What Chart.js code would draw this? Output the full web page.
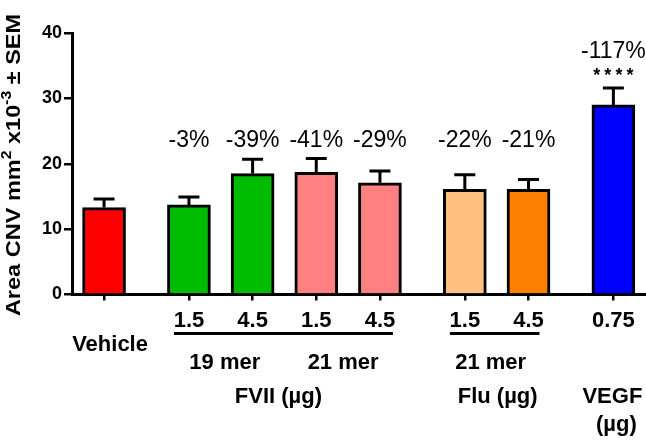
<!DOCTYPE html>
<html>
<head>
<meta charset="utf-8">
<script src="https://cdn.jsdelivr.net/npm/chart.js@4/dist/chart.umd.min.js"></script>
<style>
  html, body { margin: 0; padding: 0; background: #fff; }
  #wrap { width: 646px; height: 441px; }
</style>
</head>
<body>
<div id="wrap"><canvas id="chart-area" width="646" height="441"></canvas></div>
<script>
// bars, left to right
var categories = ['Vehicle', 'FVII 19 mer 1.5', 'FVII 19 mer 4.5', 'FVII 21 mer 1.5', 'FVII 21 mer 4.5',
                  'Flu 21 mer 1.5', 'Flu 21 mer 4.5', 'VEGF 0.75'];
var groupOf    = [0, 1, 1, 1, 1, 2, 2, 3];
var areaMean   = [13.3, 13.7, 18.5, 18.7, 17.1, 16.1, 16.1, 29.0];
var areaSem    = [1.3, 1.2, 2.2, 2.1, 1.8, 2.2, 1.5, 2.6];
var doseLabels = ['', '1.5', '4.5', '1.5', '4.5', '1.5', '4.5', '0.75'];
var pctLabels  = ['', '-3%', '-39%', '-41%', '-29%', '-22%', '-21%', '-117%'];
var sigLabels  = ['', '', '', '', '', '', '', '****'];
var yTicks     = [0, 10, 20, 30, 40];

var barColors = ['#ff0000', '#00bb00', '#00bb00', '#ff8080', '#ff8080', '#ffc080', '#ff8000', '#0000ff'];

// slot positions: 3 units between bars in a group, 4 between groups
var pos = [];
var p = 0;
for (var i = 0; i < categories.length; ++i) {
    if (i > 0) p += (groupOf[i] !== groupOf[i - 1]) ? 4 : 3;
    pos.push(p);
}

var BOLD = 'bold 22px "Liberation Sans", Arial, sans-serif';

function txt(ctx, s, x, y, font, align) {
    ctx.font = font;
    ctx.textAlign = align || 'center';
    ctx.textBaseline = 'alphabetic';
    ctx.fillText(s, x, y);
}

var extras = {
    id: 'extras',
    afterDatasetsDraw: function (chart) {
        var ctx = chart.ctx;
        var xs = chart.scales.x, ys = chart.scales.y;
        ctx.save();
        ctx.strokeStyle = '#000';
        ctx.fillStyle = '#000';
        ctx.lineWidth = 3;
        for (var i = 0; i < areaMean.length; ++i) {
            var cx = xs.getPixelForValue(pos[i]);
            var top = ys.getPixelForValue(areaMean[i]);
            var et = ys.getPixelForValue(areaMean[i] + areaSem[i]);
            ctx.beginPath();
            ctx.moveTo(cx, top);
            ctx.lineTo(cx, et);
            ctx.moveTo(cx - 10.5, et);
            ctx.lineTo(cx + 10.5, et);
            ctx.stroke();
        }
        ctx.restore();
    },
    afterDraw: function (chart) {
        var ctx = chart.ctx;
        var xs = chart.scales.x;
        var bx = function (i) { return xs.getPixelForValue(pos[i]); };
        ctx.save();
        ctx.fillStyle = '#000';
        ctx.strokeStyle = '#000';

        // percent change above bars
        for (var i = 0; i < pctLabels.length; ++i) {
            if (!pctLabels[i]) continue;
            var y = sigLabels[i] ? 58 : 147;
            txt(ctx, pctLabels[i], bx(i), y, '23px "Liberation Sans", Arial, sans-serif');
            if (sigLabels[i]) {
                ctx.letterSpacing = '4px';
                txt(ctx, sigLabels[i], bx(i) + 2, 81, 'bold 18px "Liberation Sans", Arial, sans-serif');
                ctx.letterSpacing = '0px';
            }
        }

        // dose labels
        for (var j = 0; j < doseLabels.length; ++j) {
            if (doseLabels[j]) txt(ctx, doseLabels[j], bx(j), 327, BOLD);
        }

        // underlines for FVII and Flu
        ctx.lineWidth = 3;
        ctx.beginPath();
        ctx.moveTo(bx(1) - 15, 333.5); ctx.lineTo(bx(4) + 13, 333.5);
        ctx.moveTo(bx(5) - 15, 333.5); ctx.lineTo(bx(6) + 11, 333.5);
        ctx.stroke();

        txt(ctx, 'Vehicle', bx(0) + 6, 351, BOLD);
        txt(ctx, '19 mer', (bx(1) + bx(2)) / 2 + 4, 369, BOLD);
        txt(ctx, '21 mer', (bx(3) + bx(4)) / 2 - 5, 369, BOLD);
        txt(ctx, '21 mer', (bx(5) + bx(6)) / 2 - 6, 369, BOLD);
        txt(ctx, 'FVII (\u00b5g)', (bx(1) + bx(4)) / 2 - 6, 403, BOLD);
        txt(ctx, 'Flu (\u00b5g)', (bx(5) + bx(6)) / 2 + 1, 403, BOLD);
        txt(ctx, 'VEGF', bx(7) - 1, 403, BOLD);
        txt(ctx, '(\u00b5g)', bx(7) + 3, 431, BOLD);

        // y axis title with superscripts
        var parts = [
            { t: 'Area CNV mm', sup: false },
            { t: '2', sup: true },
            { t: ' x10', sup: false },
            { t: '-3', sup: true },
            { t: ' \u00b1 SEM', sup: false }
        ];
        var big = 'bold 21px "Liberation Sans", Arial, sans-serif';
        var small = 'bold 14px "Liberation Sans", Arial, sans-serif';
        var total = 0;
        parts.forEach(function (q) {
            ctx.font = q.sup ? small : big;
            q.w = ctx.measureText(q.t).width;
            total += q.w;
        });
        var stretch = 1.12;
        ctx.translate(20, 165);
        ctx.rotate(-Math.PI / 2);
        ctx.scale(stretch, 1);
        var x0 = -total / 2;
        ctx.textAlign = 'left';
        ctx.textBaseline = 'alphabetic';
        parts.forEach(function (q) {
            ctx.font = q.sup ? small : big;
            ctx.fillText(q.t, x0, q.sup ? -9 : 0);
            x0 += q.w;
        });
        ctx.restore();
    }
};

var config = {
    type: 'bar',
    data: {
        datasets: [{
            data: areaMean.map(function (v, i) { return { x: pos[i], y: v }; }),
            backgroundColor: barColors,
            borderColor: '#000',
            borderWidth: 3,
            barThickness: 43
        }]
    },
    options: {
        responsive: false,
        animation: false,
        layout: { padding: { top: 33, right: 1, left: 0, bottom: 0 } },
        plugins: { legend: { display: false }, tooltip: { enabled: false } },
        scales: {
            x: {
                type: 'linear',
                offset: false,
                min: -1.51,
                max: 25.49,
                afterBuildTicks: function (scale) {
                    scale.ticks = pos.map(function (v) { return { value: v }; });
                },
                afterFit: function (scale) { scale.height = 146.5; },
                ticks: { display: false },
                grid: { offset: false, drawOnChartArea: false, drawTicks: true, tickLength: 6, color: '#000', lineWidth: 2.5 },
                border: { color: '#000', width: 3 }
            },
            y: {
                min: 0,
                max: 40,
                afterBuildTicks: function (scale) {
                    scale.ticks = yTicks.map(function (v) { return { value: v }; });
                },
                afterFit: function (scale) { scale.width = 72; },
                ticks: {
                    color: '#000',
                    padding: 2,
                    font: { family: '"Liberation Sans", Arial, sans-serif', size: 18, weight: 'bold' }
                },
                grid: { drawOnChartArea: false, drawTicks: true, tickLength: 8, color: '#000', lineWidth: 2.5 },
                border: { color: '#000', width: 3 }
            }
        }
    },
    plugins: [extras]
};

var ctx = document.getElementById('chart-area').getContext('2d');
window.myBar = new Chart(ctx, config);
</script>
</body>
</html>
